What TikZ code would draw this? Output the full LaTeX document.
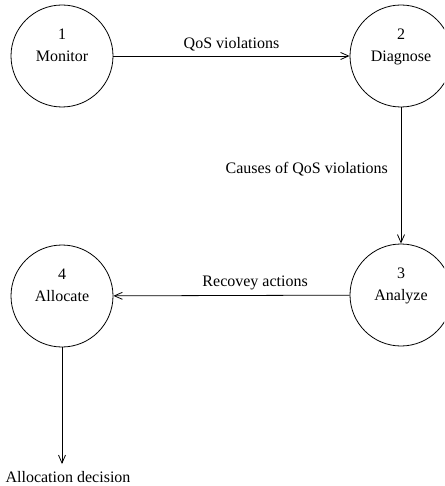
\documentclass[tikz,border=0pt]{standalone}
\usepackage{fontspec}
\setmainfont{Liberation Serif}
\usetikzlibrary{arrows.meta}
\tikzset{
    stage/.style={draw, circle, minimum size=51pt, inner sep=0pt, align=center},
    flow/.style={draw, -{Straight Barb[length=4pt, width=3.5pt]}},
}
\begin{document}
\begin{tikzpicture}[x=0.5pt, y=-0.5pt, font=\fontsize{8}{11}\selectfont]
    \useasboundingbox (0,0) rectangle (444,486);
    \begin{scope}
    \clip (0,0) rectangle (444,486);
    \node[stage] (monitor) at (62,56) {1\\Monitor\\\mbox{}};
    \node[stage] (diagnose) at (401,56) {2\\Diagnose\\\mbox{}};
    \node[stage] (analyze) at (401,295) {3\\Analyze\\\mbox{}};
    \node[stage] (allocate) at (62,296) {4\\Allocate\\\mbox{}};
    \end{scope}
    \coordinate (decision) at (62,464);

    \draw[flow] (monitor) -- (diagnose) node[midway, above=-1pt]{QoS violations};
    \draw[flow] (diagnose) -- (analyze) node[pos=0.45, left=3pt]{Causes of QoS violations};
    \draw[flow] (analyze) -- (allocate) node[pos=0.4, above=-1pt]{Recovey actions};
    \draw[flow] (allocate) -- (decision) node[below=0pt, xshift=3pt]{Allocation decision};
\end{tikzpicture}
\end{document}
